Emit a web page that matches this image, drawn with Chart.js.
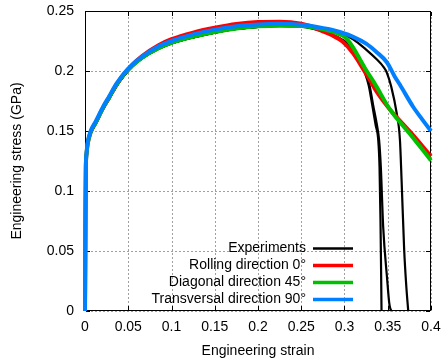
<!DOCTYPE html>
<html><head><meta charset="utf-8">
<script src="https://cdn.jsdelivr.net/npm/chart.js@4.4.0/dist/chart.umd.min.js"></script>
<style>html,body{margin:0;padding:0;background:#fff;}#wrap{width:441px;height:361px;}</style>
</head><body><div id="wrap"><canvas id="c" width="441" height="361"></canvas></div>
<script>
// ---------- data ----------
const seriesLabels = ['Experiments', 'Rolling direction 0°', 'Diagonal direction 45°', 'Transversal direction 90°'];
const xTitle = 'Engineering strain';
const yTitle = 'Engineering stress (GPa)';
const xTickValues = [0, 0.05, 0.1, 0.15, 0.2, 0.25, 0.3, 0.35, 0.4];
const xTickLabels = ['0', '0.05', '0.1', '0.15', '0.2', '0.25', '0.3', '0.35', '0.4'];
const yTickValues = [0, 0.05, 0.1, 0.15, 0.2, 0.25];
const yTickLabels = ['0', '0.05', '0.1', '0.15', '0.2', '0.25'];

const strainRolling = [0,0.0005,0.001,0.0018,0.003,0.0066,0.0124,0.02,0.028,0.036,0.045,0.055,0.066,0.085,0.1,0.125,0.15,0.175,0.2,0.225,0.25,0.26,0.271,0.285,0.298,0.31,0.3235,0.3293,0.337,0.3525,0.3757,0.4];
const stressRolling = [0,0.07,0.12,0.131,0.139,0.149,0.157,0.168,0.178,0.188,0.1975,0.2055,0.2125,0.2215,0.2265,0.232,0.236,0.2392,0.2408,0.241,0.2395,0.2375,0.2342,0.23,0.2244,0.2148,0.1994,0.1925,0.183,0.168,0.1495,0.129];

const strainDiagonal = [0,0.0005,0.001,0.0018,0.003,0.0066,0.0124,0.02,0.028,0.036,0.045,0.055,0.066,0.085,0.1,0.125,0.15,0.175,0.2,0.225,0.25,0.27,0.285,0.2945,0.298,0.304,0.31,0.3165,0.3235,0.3333,0.337,0.3525,0.3757,0.4];
const stressDiagonal = [0,0.07,0.12,0.131,0.139,0.149,0.157,0.168,0.178,0.188,0.197,0.2045,0.211,0.219,0.2235,0.2285,0.2325,0.2355,0.2372,0.2378,0.2375,0.2355,0.233,0.2305,0.2295,0.2255,0.2195,0.2115,0.2025,0.1915,0.187,0.168,0.1475,0.1255];

const strainTransversal = [0,0.0005,0.001,0.0018,0.003,0.0066,0.0124,0.02,0.028,0.036,0.045,0.055,0.066,0.085,0.1,0.125,0.15,0.175,0.2,0.225,0.25,0.27,0.285,0.2945,0.31,0.325,0.3375,0.3487,0.358,0.3641,0.3795,0.39,0.4];
const stressTransversal = [0,0.07,0.12,0.132,0.14,0.15,0.158,0.169,0.179,0.189,0.198,0.2055,0.212,0.2205,0.225,0.2305,0.2345,0.2373,0.2388,0.2393,0.2385,0.2365,0.2345,0.2325,0.2285,0.2228,0.2155,0.2075,0.1955,0.1885,0.17,0.1595,0.15];

const strainExp1 = [0,0.0005,0.001,0.0018,0.003,0.0066,0.0124,0.02,0.028,0.036,0.045,0.055,0.066,0.085,0.1,0.125,0.15,0.175,0.2,0.225,0.25,0.27,0.29,0.305,0.315,0.3235,0.328,0.332,0.336,0.339,0.3405,0.3416,0.3422,0.3428];
const stressExp1 = [0,0.07,0.12,0.13,0.138,0.148,0.156,0.167,0.177,0.187,0.196,0.204,0.2105,0.2185,0.223,0.228,0.232,0.235,0.2368,0.2375,0.237,0.234,0.2285,0.2215,0.2125,0.1985,0.188,0.172,0.155,0.1425,0.12,0.0758,0.04,0];

const strainExp2 = [0,0.0005,0.001,0.0018,0.003,0.0066,0.0124,0.02,0.028,0.036,0.045,0.055,0.066,0.085,0.1,0.125,0.15,0.175,0.2,0.225,0.25,0.27,0.29,0.305,0.315,0.3235,0.329,0.333,0.3375,0.34,0.342,0.3447,0.3494,0.3517,0.353,0.3544];
const stressExp2 = [0,0.07,0.12,0.13,0.138,0.148,0.156,0.167,0.177,0.187,0.196,0.204,0.2105,0.2185,0.223,0.228,0.232,0.235,0.2368,0.2375,0.2372,0.2345,0.229,0.222,0.2128,0.1995,0.188,0.172,0.155,0.1425,0.12,0.0703,0.0258,0.0067,0.002,0];

const strainExp3 = [0,0.0005,0.001,0.0018,0.003,0.0066,0.0124,0.02,0.028,0.036,0.045,0.055,0.066,0.085,0.1,0.125,0.15,0.175,0.2,0.225,0.25,0.27,0.2945,0.31,0.325,0.3375,0.345,0.349,0.354,0.3603,0.3641,0.366,0.369,0.3715,0.3737];
const stressExp3 = [0,0.07,0.12,0.13,0.138,0.148,0.156,0.167,0.177,0.187,0.196,0.204,0.2105,0.2185,0.223,0.228,0.232,0.235,0.2368,0.2377,0.2378,0.2358,0.2318,0.2265,0.2178,0.2095,0.2035,0.1985,0.187,0.165,0.1425,0.109,0.0508,0.02,0];

// ---------- styles ----------
const colExp = '#000000', colRoll = '#ff0000', colDiag = '#00c000', colTrans = '#0080ff';

function pts(xs, ys) { return xs.map((x, i) => ({x: x, y: ys[i]})); }
function ds(label, xs, ys, color, width, order) {
  return {label: label, data: pts(xs, ys), borderColor: color, backgroundColor: color,
    borderWidth: width, pointRadius: 0, fill: false, cubicInterpolationMode: 'monotone',
    clip: false, order: order};
}

Chart.defaults.font.family = "'Liberation Sans', Arial, sans-serif";
Chart.defaults.font.size = 14;
Chart.defaults.color = '#000';

const frame = {
  id: 'frame',
  beforeDatasetsDraw(chart) {
    const {ctx, chartArea: a, scales} = chart;
    ctx.save();
    // dotted grid
    ctx.fillStyle = '#a0a0a0';
    xTickValues.forEach(v => {
      const px = Math.round(scales.x.getPixelForValue(v));
      for (let y = a.top + 2; y < a.bottom - 1; y += 4) ctx.fillRect(px, y, 1, 2);
    });
    yTickValues.forEach(v => {
      const py = Math.round(scales.y.getPixelForValue(v));
      for (let x = a.left + 2; x < a.right - 1; x += 4) ctx.fillRect(x, py, 2, 1);
    });
    // frame
    ctx.strokeStyle = '#000';
    ctx.lineWidth = 1;
    ctx.strokeRect(a.left + 0.5, a.top + 0.5, a.right - a.left - 1, a.bottom - a.top - 1);
    // inward tick marks on all four sides
    const tl = 4;
    ctx.beginPath();
    xTickValues.forEach(v => {
      const px = Math.round(scales.x.getPixelForValue(v)) + 0.5;
      ctx.moveTo(px, a.bottom - 1); ctx.lineTo(px, a.bottom - 1 - tl);
      ctx.moveTo(px, a.top + 1); ctx.lineTo(px, a.top + 1 + tl);
    });
    yTickValues.forEach(v => {
      const py = Math.round(scales.y.getPixelForValue(v)) + 0.5;
      ctx.moveTo(a.left + 1, py); ctx.lineTo(a.left + 1 + tl, py);
      ctx.moveTo(a.right - 1, py); ctx.lineTo(a.right - 1 - tl, py);
    });
    ctx.stroke();
    ctx.restore();
  },
  afterDatasetsDraw(chart) {
    const {ctx} = chart;
    const items = [
      [seriesLabels[0], colExp, 2.5],
      [seriesLabels[1], colRoll, 3.5],
      [seriesLabels[2], colDiag, 3.5],
      [seriesLabels[3], colTrans, 3.5]
    ];
    ctx.save();
    ctx.font = "14px 'Liberation Sans', Arial, sans-serif";
    ctx.textAlign = 'right';
    ctx.textBaseline = 'middle';
    items.forEach((it, i) => {
      const y = 248.5 + i * 17;
      ctx.fillStyle = '#000';
      ctx.fillText(it[0], 306, y);
      ctx.strokeStyle = it[1];
      ctx.lineWidth = it[2];
      ctx.beginPath();
      ctx.moveTo(313, y); ctx.lineTo(353, y);
      ctx.stroke();
    });
    ctx.restore();
  }
};

new Chart(document.getElementById('c'), {
  type: 'line',
  data: {
    datasets: [
      ds(seriesLabels[0], strainExp1, stressExp1, colExp, 2.2, 4),
      ds(seriesLabels[0], strainExp2, stressExp2, colExp, 2.2, 4),
      ds(seriesLabels[0], strainExp3, stressExp3, colExp, 2.2, 4),
      ds(seriesLabels[1], strainRolling, stressRolling, colRoll, 4, 3),
      ds(seriesLabels[2], strainDiagonal, stressDiagonal, colDiag, 4, 2),
      ds(seriesLabels[3], strainTransversal, stressTransversal, colTrans, 4, 1)
    ]
  },
  options: {
    responsive: false,
    animation: false,
    devicePixelRatio: 1,
    layout: {autoPadding: false, padding: {left: 0, top: 11, right: 10, bottom: 0}},
    plugins: {legend: {display: false}, tooltip: {enabled: false}},
    scales: {
      x: {
        type: 'linear', min: 0, max: 0.4,
        afterFit: s => { s.height = 50; },
        afterBuildTicks: s => { s.ticks = xTickValues.map(v => ({value: v})); },
        ticks: {autoSkip: false, maxRotation: 0, padding: 0, callback: (v, i) => xTickLabels[i]},
        grid: {display: false, drawTicks: true, tickLength: 8},
        border: {display: false},
        title: {display: true, text: xTitle, padding: {top: 0, bottom: 1}}
      },
      y: {
        type: 'linear', min: 0, max: 0.25,
        afterFit: s => { s.width = 85; },
        afterBuildTicks: s => { s.ticks = yTickValues.map(v => ({value: v})); },
        ticks: {autoSkip: false, padding: 0, callback: (v, i) => yTickLabels[i]},
        grid: {display: false, drawTicks: true, tickLength: 11},
        border: {display: false},
        title: {display: true, text: yTitle, padding: {top: 9, bottom: 0}}
      }
    }
  },
  plugins: [frame]
});
</script>
</body></html>
